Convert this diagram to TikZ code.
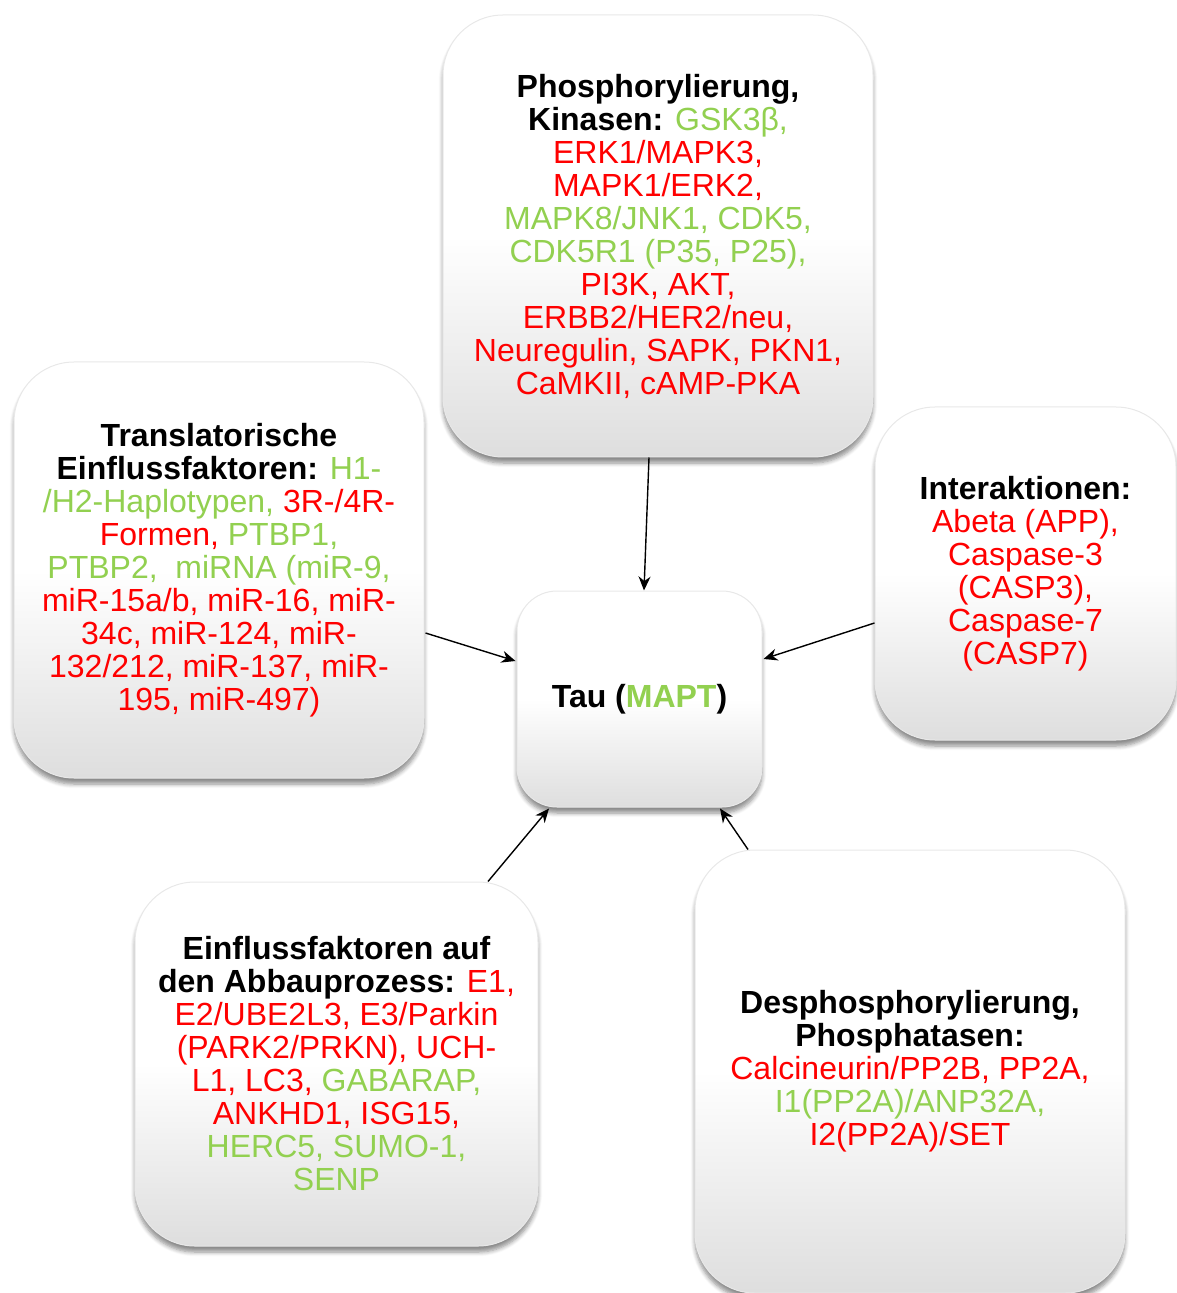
\documentclass[tikz,border=0pt]{standalone}
\usepackage{fontspec}
\setmainfont{Liberation Sans}
\usetikzlibrary{arrows.meta, calc, shadows.blur}
\definecolor{taugreen}{RGB}{146,208,80}
\definecolor{taured}{RGB}{255,0,0}
\newcommand{\gtxt}[1]{\textcolor{taugreen}{#1}}
\newcommand{\rtxt}[1]{\textcolor{taured}{#1}}

\begin{document}
\begin{tikzpicture}[x=0.5pt, y=-0.5pt,
    infobox/.style={rectangle, rounded corners=30pt, draw=black!9, line width=0.5pt,
        top color=white, bottom color=black!13, middle color=white,
        blur shadow={shadow xshift=0pt, shadow yshift=-3pt, shadow blur steps=6, shadow opacity=45},
        align=center, inner sep=0pt, font=\fontsize{16}{16.5}\selectfont},
    arr/.style={-{Stealth[length=7pt, width=6pt]}, line width=0.7pt}]
    \useasboundingbox (0,0) rectangle (1176,1293);

    % outer boxes
    \node[infobox, minimum width=215pt, minimum height=221pt] (kin) at (658,236) {%
        \textbf{Phosphorylierung,}\\
        \textbf{Kinasen:} \gtxt{GSK3β,}\\
        \rtxt{ERK1/MAPK3,}\\
        \rtxt{MAPK1/ERK2,}\\
        \gtxt{MAPK8/JNK1, CDK5,}\\
        \gtxt{CDK5R1 (P35, P25),}\\
        \rtxt{PI3K, AKT,}\\
        \rtxt{ERBB2/HER2/neu,}\\
        \rtxt{Neuregulin, SAPK, PKN1,}\\
        \rtxt{CaMKII, cAMP-PKA}};
    \node[infobox, minimum width=205pt, minimum height=208pt] (trans) at (219,570) {%
        \textbf{Translatorische}\\
        \textbf{Einflussfaktoren:} \gtxt{H1-}\\
        \gtxt{/H2-Haplotypen,} \rtxt{3R-/4R-}\\
        \rtxt{Formen,} \gtxt{PTBP1,}\\
        \gtxt{PTBP2,~ miRNA (miR-9,}\\
        \rtxt{miR-15a/b, miR-16, miR-}\\
        \rtxt{34c, miR-124, miR-}\\
        \rtxt{132/212, miR-137, miR-}\\
        \rtxt{195, miR-497)}};
    \node[infobox, minimum width=150.5pt, minimum height=166.5pt] (inter) at (1025.5,573.5) {%
        \textbf{Interaktionen:}\\
        \rtxt{Abeta (APP),}\\
        \rtxt{Caspase-3}\\
        \rtxt{(CASP3),}\\
        \rtxt{Caspase-7}\\
        \rtxt{(CASP7)}};
    \node[infobox, minimum width=201.5pt, minimum height=182pt] (abbau) at (336.5,1064) {%
        \textbf{Einflussfaktoren auf}\\
        \textbf{den Abbauprozess:} \rtxt{E1,}\\
        \rtxt{E2/UBE2L3, E3/Parkin}\\
        \rtxt{(PARK2/PRKN), UCH-}\\
        \rtxt{L1, LC3,} \gtxt{GABARAP,}\\
        \rtxt{ANKHD1, ISG15,}\\
        \gtxt{HERC5, SUMO-1,}\\
        \gtxt{SENP}};
    \node[infobox, minimum width=215pt, minimum height=221.5pt] (desphos) at (910,1071.5) {%
        \textbf{Desphosphorylierung,}\\
        \textbf{Phosphatasen:}\\
        \rtxt{Calcineurin/PP2B, PP2A,}\\
        \gtxt{I1(PP2A)/ANP32A,}\\
        \rtxt{I2(PP2A)/SET}};

    % centre
    \node[infobox, rounded corners=20pt, minimum width=122.5pt, minimum height=108pt] (tau) at (639.5,699)
        {\textbf{Tau (\gtxt{MAPT})}};

    % arrows
    \draw[arr] ($(kin.south)+(-9,0)$) -- ($(tau.north)+(4.5,0)$);
    \draw[arr] ($(trans.east)+(1,63)$) -- ($(tau.west)+(-1,-38)$);
    \draw[arr] ($(inter.west)+(0,49.5)$) -- ($(tau.east)+(1,-40)$);
    \draw[arr] ($(abbau.north)+(151.5,0)$) -- ($(tau.south)+(-90.5,1)$);
    \draw[arr] ($(desphos.north)+(-162,0)$) -- ($(tau.south)+(80.5,1)$);
\end{tikzpicture}
\end{document}
